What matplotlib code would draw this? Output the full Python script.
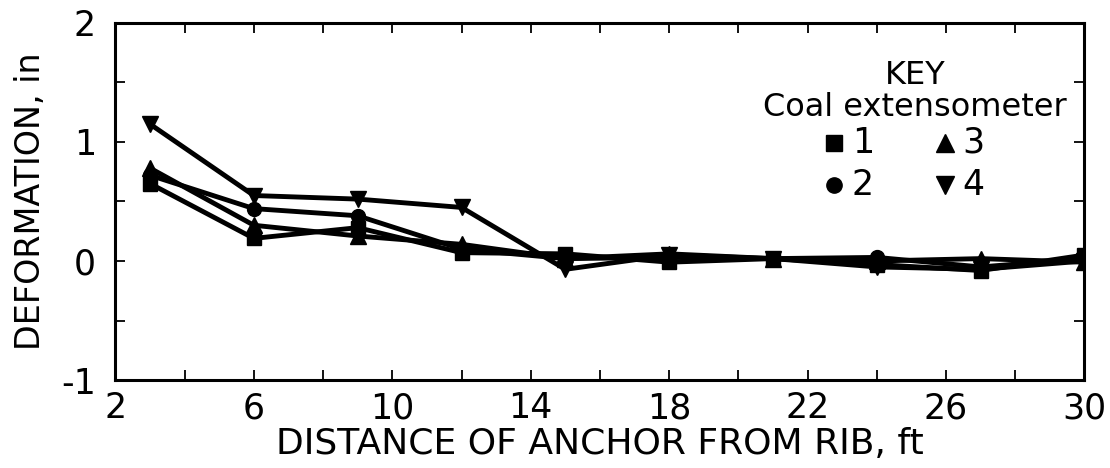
import matplotlib.pyplot as plt
from matplotlib.ticker import MultipleLocator

distance = [3, 6, 9, 12, 15, 18, 21, 24, 27, 30]
ext1 = [0.65, 0.19, 0.28, 0.07, 0.06, -0.01, 0.02, -0.03, -0.08, 0.05]
ext2 = [0.72, 0.44, 0.38, 0.10, 0.02, 0.03, 0.02, 0.03, -0.05, 0.02]
ext3 = [0.78, 0.30, 0.21, 0.14, 0.02, 0.06, 0.02, 0.00, 0.02, -0.01]
ext4 = [1.15, 0.55, 0.52, 0.45, -0.07, 0.05, 0.02, -0.05, -0.07, 0.00]

series = [(ext1, "s", 10), (ext2, "o", 10), (ext3, "^", 12), (ext4, "v", 12)]

plt.rcParams["font.family"] = ["DejaVu Sans"]
plt.rcParams["axes.unicode_minus"] = False

fig, ax = plt.subplots(figsize=(11.1, 4.68), dpi=100)
fig.subplots_adjust(left=0.104, right=0.977, top=0.951, bottom=0.188)

for vals, mk, ms in series:
    ax.plot(distance, vals, color="black", lw=3.5, marker=mk, markersize=ms)

ax.set_xlim(2, 30)
ax.set_ylim(-1, 2)
ax.set_xticks(range(2, 31, 4))
ax.xaxis.set_minor_locator(MultipleLocator(2))
ax.set_yticks([-1, 0, 1, 2])
ax.yaxis.set_minor_locator(MultipleLocator(0.5))
ax.tick_params(which="both", direction="in", top=True, right=True,
               labelsize=25, width=1.3, length=7)
ax.tick_params(axis="x", pad=8)
ax.tick_params(axis="y", pad=14)
for sp in ax.spines.values():
    sp.set_linewidth(2.2)

ax.set_xlabel("DISTANCE OF ANCHOR FROM RIB, ft", fontsize=26, labelpad=1)
ax.set_ylabel("DEFORMATION, in", fontsize=24, labelpad=10)

# key
ax.text(0.825, 0.854, "KEY", transform=ax.transAxes, ha="center",
        va="center", fontsize=23)
ax.text(0.825, 0.762, "Coal extensometer", transform=ax.transAxes,
        ha="center", va="center", fontsize=23)
key_pos = [(0.742, 0.664, "1"), (0.742, 0.546, "2"),
           (0.856, 0.664, "3"), (0.856, 0.546, "4")]
for (vals, mk, ms), (kx, ky, lab) in zip(series, key_pos):
    ax.plot([kx], [ky], transform=ax.transAxes, marker=mk,
            color="black", markersize=ms + 1, linestyle="none")
    ax.text(kx + 0.018, ky, lab, transform=ax.transAxes, ha="left",
            va="center", fontsize=25)

fig.savefig("out.png")
